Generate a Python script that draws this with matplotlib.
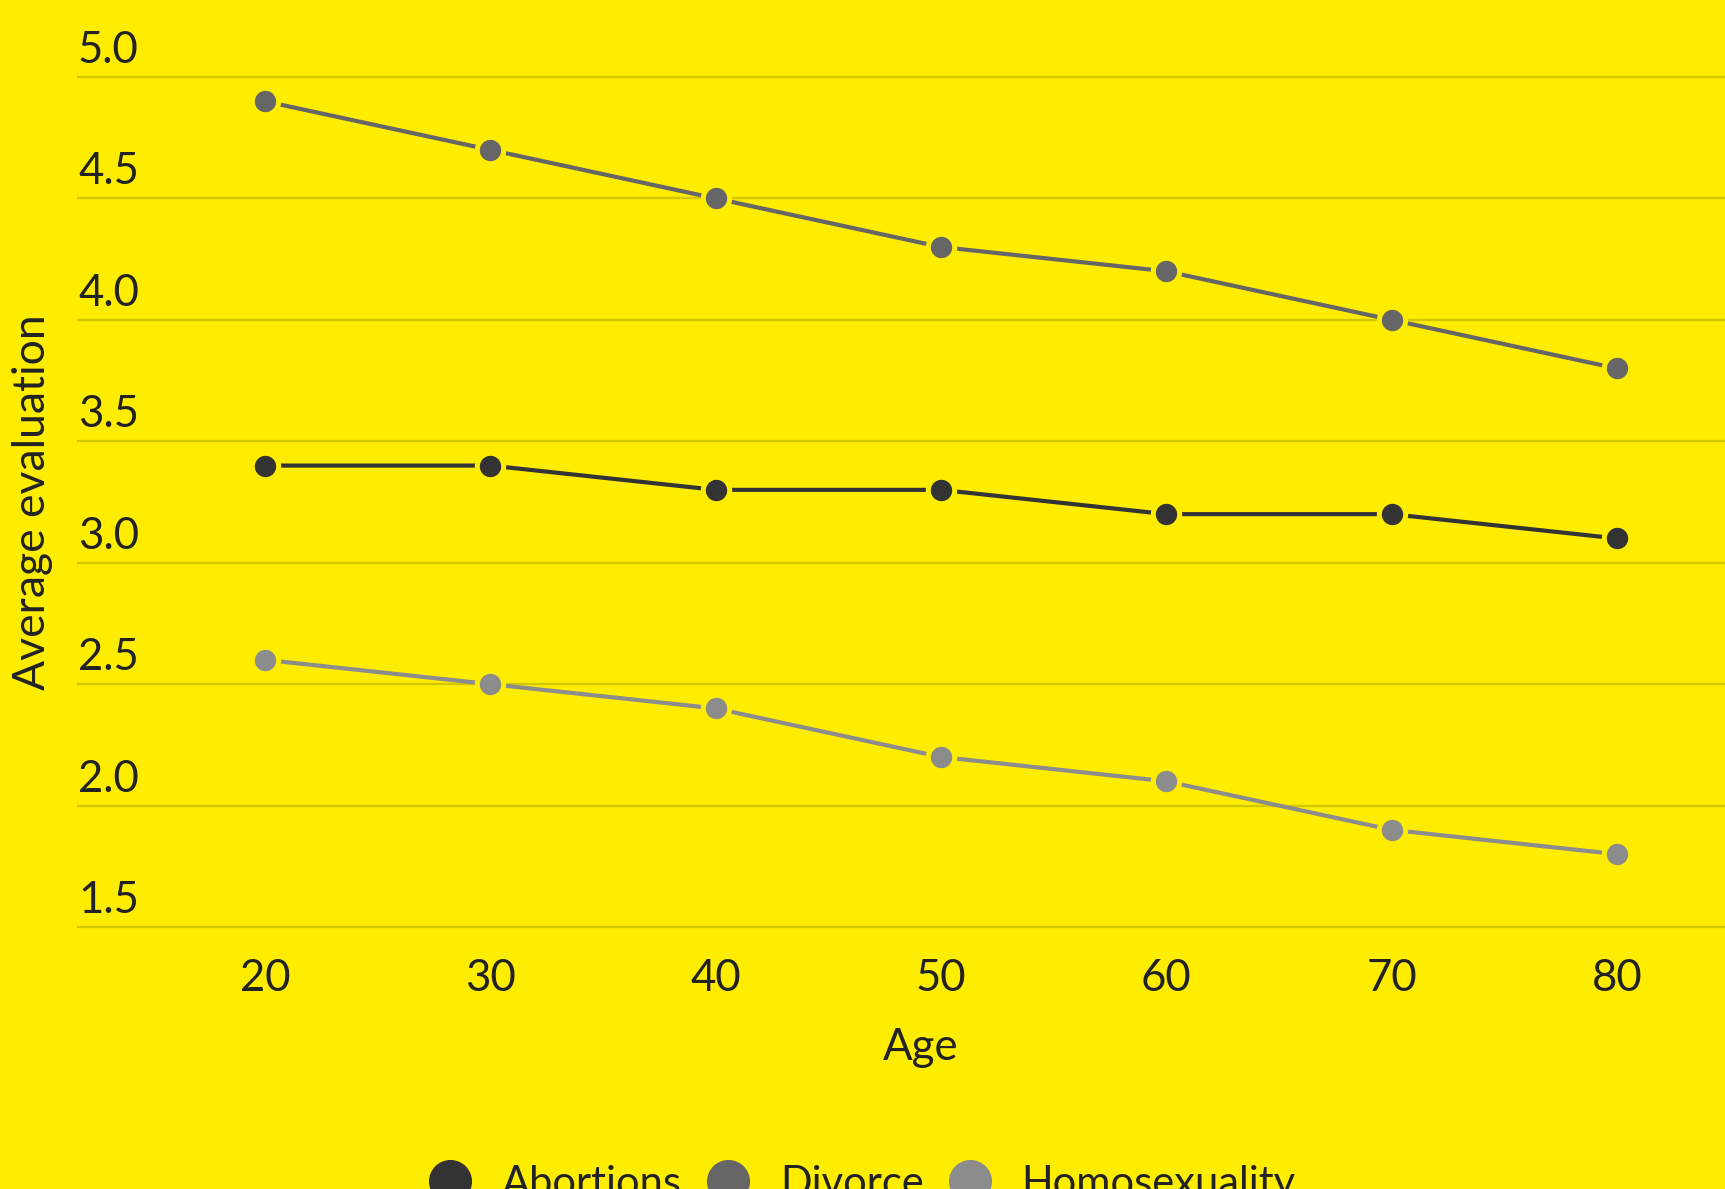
import matplotlib
matplotlib.use("Agg")
import matplotlib.pyplot as plt
import matplotlib.transforms as mtransforms
from matplotlib.lines import Line2D

# Average evaluation by age for three moral issues
ages = [20, 30, 40, 50, 60, 70, 80]
abortions = [3.4, 3.4, 3.3, 3.3, 3.2, 3.2, 3.1]
divorce = [4.9, 4.7, 4.5, 4.3, 4.2, 4.0, 3.8]
homosexuality = [2.6, 2.5, 2.4, 2.2, 2.1, 1.9, 1.8]

series_names = ["Abortions", "Divorce", "Homosexuality"]
series_values = [abortions, divorce, homosexuality]
series_colors = ["#333333", "#666666", "#8c8c8c"]

y_ticks = [1.5, 2.0, 2.5, 3.0, 3.5, 4.0, 4.5, 5.0]
y_tick_labels = ["1.5", "2.0", "2.5", "3.0", "3.5", "4.0", "4.5", "5.0"]
x_ticks = [20, 30, 40, 50, 60, 70, 80]
x_tick_labels = ["20", "30", "40", "50", "60", "70", "80"]

BG = "#ffed00"
GRID = "#d4c700"
TEXT = "#222222"
FONT = "Lato"
FS = 31.5

plt.rcParams["font.family"] = [FONT, "DejaVu Sans"]

fig = plt.figure(figsize=(17.25, 11.89), dpi=100, facecolor=BG)
ax = fig.add_axes([78 / 1725, 1 - 927 / 1189, 1 - 78 / 1725, (927 - 77) / 1189])
ax.set_facecolor(BG)
ax.set_xlim(11.7, 84.8)
ax.set_ylim(1.5, 5.0)

for s in ax.spines.values():
    s.set_visible(False)

# horizontal gridlines
for yv in y_ticks:
    ax.axhline(yv, color=GRID, lw=1.7, zorder=1, clip_on=False)

# y tick labels sit above their gridlines, left-aligned
trans = mtransforms.blended_transform_factory(ax.transAxes, ax.transData)
offset = mtransforms.ScaledTranslation(0, 14 / 100, fig.dpi_scale_trans)
for yv, lab in zip(y_ticks, y_tick_labels):
    ax.text(0.0, yv, lab, transform=trans + offset, ha="left", va="baseline",
            fontsize=FS, color=TEXT)
ax.set_yticks([])

ax.set_xticks(x_ticks)
ax.set_xticklabels(x_tick_labels, fontsize=FS, color=TEXT)
ax.tick_params(axis="x", length=0, pad=22)

for name, vals, col in zip(series_names, series_values, series_colors):
    ax.plot(ages, vals, color=col, lw=3.0, marker="o", markersize=19,
            markerfacecolor=col, markeredgecolor=BG, markeredgewidth=3.6,
            zorder=3, clip_on=False, solid_capstyle="butt")

fig.text(837 * 1725 / 1568 / 1725, 1 - 1048 / 1189, "Age", ha="center", va="center",
         fontsize=FS, color=TEXT)
fig.text(33 / 1725, 1 - 502 / 1189, "Average evaluation", ha="center", va="center",
         rotation=90, fontsize=32, color=TEXT)

handles = [Line2D([], [], linestyle="none", marker="o", markersize=30,
                  markerfacecolor=c, markeredgecolor=c) for c in series_colors]
fig.legend(handles, series_names, loc="center", bbox_to_anchor=(0.5, 1 - 1184 / 1189),
           ncol=3, frameon=False, fontsize=30, labelcolor=TEXT,
           handletextpad=0.75, columnspacing=0.6, handlelength=1.0, borderpad=0)

fig.savefig("out.png", dpi=100, facecolor=BG)
